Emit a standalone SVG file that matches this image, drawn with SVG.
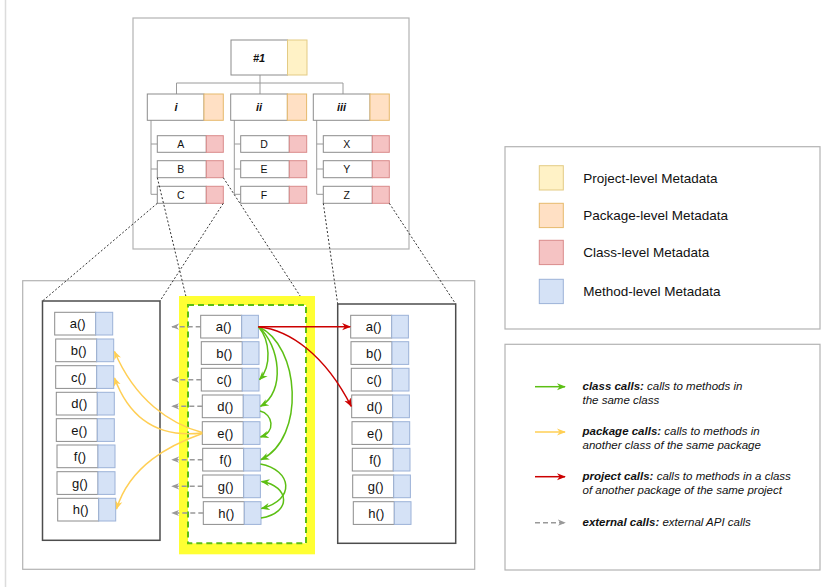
<svg xmlns="http://www.w3.org/2000/svg" width="824" height="587" viewBox="0 0 824 587">
<style>
text{font-family:"Liberation Sans",Arial,sans-serif;fill:#111}
.frame{fill:#fff;stroke:#b3b3b3;stroke-width:1.2}
.panel{fill:#fff;stroke:#4d4d4d;stroke-width:1.5}
.w{fill:#fff;stroke:#8c8c8c;stroke-width:1}
.proj{fill:#fff2c6;stroke:#e3cb84;stroke-width:1}
.pkg{fill:#ffe0c4;stroke:#e6ba6c;stroke-width:1}
.cls{fill:#f5c3c3;stroke:#d98a8a;stroke-width:1}
.mth{fill:#d5e2f6;stroke:#9cb2d8;stroke-width:1}
.tree{fill:none;stroke:#9a9a9a;stroke-width:1}
.dot{fill:none;stroke:#333;stroke-width:1;stroke-dasharray:2 2}
.m{font-size:13px;text-anchor:middle}
.c{font-size:10.5px;text-anchor:middle}
.p{font-size:11px;font-weight:bold;font-style:italic;text-anchor:middle}
.leg{font-size:13.5px}
.leg2{font-size:11.5px;font-style:italic}
.b{font-weight:bold}
.green{fill:none;stroke:#5cbf14;stroke-width:1.5;marker-end:url(#ag)}
.yel{fill:none;stroke:#ffcf55;stroke-width:1.5;marker-end:url(#ay)}
.red{fill:none;stroke:#cc0000;stroke-width:1.5;marker-end:url(#ar)}
.ext{fill:none;stroke:#999;stroke-width:1.5;stroke-dasharray:5 3;marker-end:url(#ae)}
</style>
<defs>
<marker id="ag" viewBox="0 0 10 10" refX="9" refY="5" markerWidth="9" markerHeight="9" markerUnits="userSpaceOnUse" orient="auto"><path d="M0,1 L10,5 L0,9 L3,5 Z" fill="#5cbf14"/></marker>
<marker id="ay" viewBox="0 0 10 10" refX="9" refY="5" markerWidth="9" markerHeight="9" markerUnits="userSpaceOnUse" orient="auto"><path d="M0,1 L10,5 L0,9 L3,5 Z" fill="#ffcf55"/></marker>
<marker id="ar" viewBox="0 0 10 10" refX="9" refY="5" markerWidth="9" markerHeight="9" markerUnits="userSpaceOnUse" orient="auto"><path d="M0,1 L10,5 L0,9 L3,5 Z" fill="#cc0000"/></marker>
<marker id="ae" viewBox="0 0 10 10" refX="9" refY="5" markerWidth="8" markerHeight="8" markerUnits="userSpaceOnUse" orient="auto"><path d="M0,1 L10,5 L0,9 L3,5 Z" fill="#999"/></marker>
</defs>
<rect width="824" height="587" fill="#fff"/>
<line x1="5.5" y1="0" x2="5.5" y2="587" stroke="#dcdcdc" stroke-width="1.5"/>

<!-- frames -->
<rect id="project-frame" class="frame" x="133" y="18" width="276" height="231"/>
<rect id="class-frame" class="frame" x="22.7" y="280.7" width="452" height="288.6"/>

<!-- tree -->
<g id="tree">
<path class="tree" d="M260,75 V94 M176.5,83 H343 M176.5,83 V94 M343,83 V94"/>
<path class="tree" d="M151,120 V194.3 H157.3 M151,144 H157.3 M151,169 H157.3"/>
<path class="tree" d="M234.3,120 V194.3 H240.7 M234.3,144 H240.7 M234.3,169 H240.7"/>
<path class="tree" d="M316.7,120 V194.3 H323.3 M316.7,144 H323.3 M316.7,169 H323.3"/>
</g>

<g id="n-1"><rect class="w" x="231" y="40" width="56.5" height="35"/><rect class="proj" x="287.5" y="40" width="19.5" height="35"/><text class="p" x="259" y="61.5">#1</text></g>
<g id="n-i"><rect class="w" x="147.3" y="94" width="56.7" height="26.3"/><rect class="pkg" x="204" y="94" width="19.3" height="26.3"/><text class="p" x="176" y="111">i</text></g>
<g id="n-ii"><rect class="w" x="230.7" y="94" width="56.7" height="26.3"/><rect class="pkg" x="287.3" y="94" width="19.3" height="26.3"/><text class="p" x="259" y="111">ii</text></g>
<g id="n-iii"><rect class="w" x="313.3" y="94" width="56.7" height="26.3"/><rect class="pkg" x="370" y="94" width="19.3" height="26.3"/><text class="p" x="341.5" y="111">iii</text></g>

<g id="n-A"><rect class="w" x="157.3" y="135.7" width="49" height="16.6"/><rect class="cls" x="206.3" y="135.7" width="17" height="16.6"/><text class="c" x="180.7" y="147.8">A</text></g>
<g id="n-B"><rect class="w" x="157.3" y="160.7" width="49" height="17"/><rect class="cls" x="206.3" y="160.7" width="17" height="17"/><text class="c" x="180.7" y="173">B</text></g>
<g id="n-C"><rect class="w" x="157.3" y="186.3" width="49" height="17"/><rect class="cls" x="206.3" y="186.3" width="17" height="17"/><text class="c" x="180.7" y="198.6">C</text></g>
<g id="n-D"><rect class="w" x="240.7" y="135.7" width="48.6" height="16.6"/><rect class="cls" x="289.3" y="135.7" width="17.4" height="16.6"/><text class="c" x="264" y="147.8">D</text></g>
<g id="n-E"><rect class="w" x="240.7" y="160.7" width="48.6" height="17"/><rect class="cls" x="289.3" y="160.7" width="17.4" height="17"/><text class="c" x="264" y="173">E</text></g>
<g id="n-F"><rect class="w" x="240.7" y="186.3" width="48.6" height="17"/><rect class="cls" x="289.3" y="186.3" width="17.4" height="17"/><text class="c" x="264" y="198.6">F</text></g>
<g id="n-X"><rect class="w" x="323.3" y="135.7" width="49" height="16.6"/><rect class="cls" x="372.3" y="135.7" width="17" height="16.6"/><text class="c" x="346.7" y="147.8">X</text></g>
<g id="n-Y"><rect class="w" x="323.3" y="160.7" width="49" height="17"/><rect class="cls" x="372.3" y="160.7" width="17" height="17"/><text class="c" x="346.7" y="173">Y</text></g>
<g id="n-Z"><rect class="w" x="323.3" y="186.3" width="49" height="17"/><rect class="cls" x="372.3" y="186.3" width="17" height="17"/><text class="c" x="346.7" y="198.6">Z</text></g>

<!-- zoom dotted lines -->
<g id="zoom-lines">
<line class="dot" x1="157.3" y1="203.3" x2="42.5" y2="301"/>
<line class="dot" x1="223.3" y1="203.3" x2="160" y2="301"/>
<line class="dot" x1="157.3" y1="177.7" x2="188" y2="305"/>
<line class="dot" x1="223.3" y1="177.7" x2="306" y2="305"/>
<line class="dot" x1="323.3" y1="203.3" x2="337.7" y2="304"/>
<line class="dot" x1="389.3" y1="203.3" x2="455.7" y2="304"/>
</g>

<!-- class panels -->
<rect id="class-C" class="panel" x="42.5" y="301" width="117.5" height="239.3"/>
<g id="class-B">
<rect x="179" y="296" width="136" height="258.3" fill="#ffff33"/>
<rect x="188" y="305" width="118" height="238.3" fill="#fff" stroke="#5cbf14" stroke-width="2" stroke-dasharray="6 4"/>
</g>
<rect id="class-Z" class="panel" x="337.7" y="304" width="118" height="239.3"/>

<!-- left methods -->
<g id="C-a"><rect class="w" x="54.7" y="312.3" width="41" height="22.7"/><rect class="mth" x="95.7" y="312.3" width="17" height="22.7"/><text class="m" x="77.7" y="328.2">a()</text></g>
<g id="C-b"><rect class="w" x="55.7" y="339" width="41" height="22.7"/><rect class="mth" x="96.7" y="339" width="17" height="22.7"/><text class="m" x="78.7" y="354.9">b()</text></g>
<g id="C-c"><rect class="w" x="55.7" y="365.7" width="41" height="22.7"/><rect class="mth" x="96.7" y="365.7" width="17" height="22.7"/><text class="m" x="78.7" y="381.5">c()</text></g>
<g id="C-d"><rect class="w" x="56.3" y="392.3" width="41" height="22.7"/><rect class="mth" x="97.3" y="392.3" width="17" height="22.7"/><text class="m" x="79.3" y="408.2">d()</text></g>
<g id="C-e"><rect class="w" x="56.3" y="418.7" width="41" height="22.7"/><rect class="mth" x="97.3" y="418.7" width="17" height="22.7"/><text class="m" x="79.3" y="434.5">e()</text></g>
<g id="C-f"><rect class="w" x="57" y="445" width="41" height="22.7"/><rect class="mth" x="98" y="445" width="17" height="22.7"/><text class="m" x="80" y="460.9">f()</text></g>
<g id="C-g"><rect class="w" x="57" y="471.7" width="41" height="22.7"/><rect class="mth" x="98" y="471.7" width="17" height="22.7"/><text class="m" x="80" y="487.5">g()</text></g>
<g id="C-h"><rect class="w" x="57.7" y="498.3" width="41" height="22.7"/><rect class="mth" x="98.7" y="498.3" width="17" height="22.7"/><text class="m" x="80.7" y="514.2">h()</text></g>

<!-- middle methods -->
<g id="B-a"><rect class="w" x="200.7" y="315.3" width="41" height="22.7"/><rect class="mth" x="241.7" y="315.3" width="16.7" height="22.7"/><text class="m" x="223.7" y="331.2">a()</text></g>
<g id="B-b"><rect class="w" x="201.3" y="341.7" width="41" height="22.7"/><rect class="mth" x="242.3" y="341.7" width="16.7" height="22.7"/><text class="m" x="224.3" y="357.5">b()</text></g>
<g id="B-c"><rect class="w" x="201.3" y="368.3" width="41" height="22.7"/><rect class="mth" x="242.3" y="368.3" width="16.7" height="22.7"/><text class="m" x="224.3" y="384.2">c()</text></g>
<g id="B-d"><rect class="w" x="202.3" y="395" width="41" height="22.7"/><rect class="mth" x="243.3" y="395" width="16.7" height="22.7"/><text class="m" x="225.3" y="410.8">d()</text></g>
<g id="B-e"><rect class="w" x="202.3" y="421.7" width="41" height="22.7"/><rect class="mth" x="243.3" y="421.7" width="16.7" height="22.7"/><text class="m" x="225.3" y="437.5">e()</text></g>
<g id="B-f"><rect class="w" x="202.7" y="448.3" width="41" height="22.7"/><rect class="mth" x="243.7" y="448.3" width="16.7" height="22.7"/><text class="m" x="225.7" y="464.2">f()</text></g>
<g id="B-g"><rect class="w" x="202.7" y="475" width="41" height="22.7"/><rect class="mth" x="243.7" y="475" width="16.7" height="22.7"/><text class="m" x="225.7" y="490.8">g()</text></g>
<g id="B-h"><rect class="w" x="203.3" y="501.7" width="41" height="22.7"/><rect class="mth" x="244.3" y="501.7" width="16.7" height="22.7"/><text class="m" x="226.3" y="517.5">h()</text></g>

<!-- right methods -->
<g id="Z-a"><rect class="w" x="350.7" y="315.3" width="41" height="22.7"/><rect class="mth" x="391.7" y="315.3" width="16.7" height="22.7"/><text class="m" x="373.7" y="331.2">a()</text></g>
<g id="Z-b"><rect class="w" x="351" y="341.7" width="41" height="22.7"/><rect class="mth" x="392" y="341.7" width="16.7" height="22.7"/><text class="m" x="374" y="357.5">b()</text></g>
<g id="Z-c"><rect class="w" x="351.3" y="368.3" width="41" height="22.7"/><rect class="mth" x="392.3" y="368.3" width="16.7" height="22.7"/><text class="m" x="374.3" y="384.2">c()</text></g>
<g id="Z-d"><rect class="w" x="351.7" y="395" width="41" height="22.7"/><rect class="mth" x="392.7" y="395" width="16.7" height="22.7"/><text class="m" x="374.7" y="410.8">d()</text></g>
<g id="Z-e"><rect class="w" x="352" y="421.7" width="41" height="22.7"/><rect class="mth" x="393" y="421.7" width="16.7" height="22.7"/><text class="m" x="375" y="437.5">e()</text></g>
<g id="Z-f"><rect class="w" x="352.3" y="448.3" width="41" height="22.7"/><rect class="mth" x="393.3" y="448.3" width="16.7" height="22.7"/><text class="m" x="375.3" y="464.2">f()</text></g>
<g id="Z-g"><rect class="w" x="352.7" y="475" width="41" height="22.7"/><rect class="mth" x="393.7" y="475" width="16.7" height="22.7"/><text class="m" x="375.7" y="490.8">g()</text></g>
<g id="Z-h"><rect class="w" x="353.3" y="501.7" width="41" height="22.7"/><rect class="mth" x="394.3" y="501.7" width="16.7" height="22.7"/><text class="m" x="376.3" y="517.5">h()</text></g>

<!-- connectors -->
<g id="connectors">
<path class="ext" d="M200.7,326.7 H172"/>
<path class="ext" d="M201.3,379.7 H172"/>
<path class="ext" d="M202.3,406.3 H172"/>
<path class="ext" d="M202.7,459.7 H172"/>
<path class="ext" d="M202.7,486.3 H172"/>
<path class="ext" d="M203.3,513 H172"/>
<path class="green" d="M258.4,326.7 C270,340 272,366 259.5,379.7"/>
<path class="green" d="M258.4,326.7 C280,345 286,392 260.5,406.3"/>
<path class="green" d="M258.4,326.7 C300,345 306,438 261,459.7"/>
<path class="green" d="M260,411 C273,414 276,432 260.5,437"/>
<path class="green" d="M260.4,464 C292,470 296,500 261.5,508.5"/>
<path class="green" d="M261,518 C292,513 290,486 261.5,481.5"/>
<path class="red" d="M258.4,326.7 H350.2"/>
<path class="red" d="M258.4,326.7 C290,330 325,355 351.2,406.3"/>
<path class="yel" d="M202.3,432.5 C170,424 135,400 114.5,351.5"/>
<path class="yel" d="M202.3,433 C160,438 130,420 114.5,378"/>
<path class="yel" d="M202.3,433.5 C170,445 130,465 116.5,509"/>
</g>

<!-- legends -->
<g id="legend-metadata">
<rect class="frame" x="505" y="146.7" width="315" height="182.3"/>
<rect class="proj" x="539.3" y="165.7" width="24" height="24.3"/>
<text class="leg" x="583.3" y="182.5">Project-level Metadata</text>
<rect class="pkg" x="539.3" y="203.3" width="24" height="24.3"/>
<text class="leg" x="583.3" y="220">Package-level Metadata</text>
<rect class="cls" x="539.3" y="240.3" width="24" height="24.3"/>
<text class="leg" x="583.3" y="257">Class-level Metadata</text>
<rect class="mth" x="539.3" y="279.3" width="24" height="24.3"/>
<text class="leg" x="583.3" y="296">Method-level Metadata</text>
</g>
<g id="legend-calls">
<rect class="frame" x="505" y="344.3" width="315" height="225.7"/>
<path class="green" d="M535,386.7 H565"/>
<text class="leg2" x="582.5" y="390"><tspan class="b">class calls:</tspan> calls to methods in</text>
<text class="leg2" x="582.5" y="404">the same class</text>
<path class="yel" d="M535,432 H565"/>
<text class="leg2" x="582.5" y="435"><tspan class="b">package calls:</tspan> calls to methods in</text>
<text class="leg2" x="582.5" y="448.7">another class of the same package</text>
<path class="red" d="M535,476.7 H565"/>
<text class="leg2" x="582.5" y="480"><tspan class="b">project calls:</tspan> calls to methods in a class</text>
<text class="leg2" x="582.5" y="493.5">of another package of the same project</text>
<path class="ext" d="M535,522.7 H565"/>
<text class="leg2" x="582.5" y="526"><tspan class="b">external calls:</tspan> external API calls</text>
</g>
</svg>
